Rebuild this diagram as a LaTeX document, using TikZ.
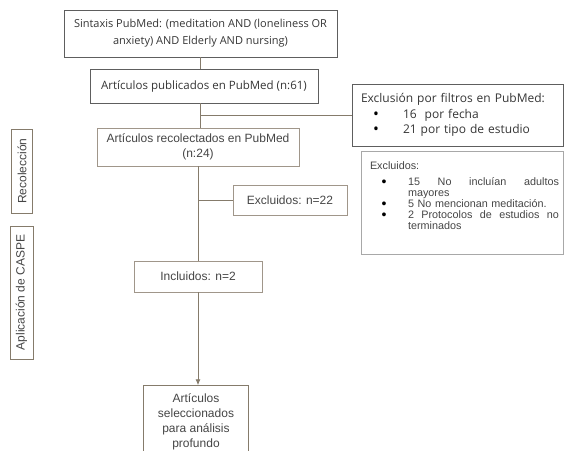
\documentclass[tikz,border=0pt]{standalone}
\usepackage{fontspec}
\setmainfont{Liberation Sans}
\newfontfamily\opensans{Open Sans}
\usetikzlibrary{arrows.meta}

\definecolor{bordeosc}{HTML}{5E5E5E}
\definecolor{bordecafe}{HTML}{A0968A}
\definecolor{bordegris}{HTML}{A8A8A8}
\definecolor{lineacafe}{HTML}{857B6B}
\definecolor{textosc}{HTML}{353535}
\definecolor{textgris}{HTML}{454545}

\newcommand{\punto}{\textcolor{black}{\raisebox{-0.08em}{\scalebox{1.3}{\textbullet}}}}
\newcommand{\filtbul}{\makebox[42pt][l]{\hspace*{12pt}\punto\hfil}}
\newcommand{\exbul}{\makebox[38pt][l]{\hspace*{11.5pt}\punto\hfil}}

\begin{document}
\begin{tikzpicture}[x=1pt, y=-1pt, line width=0.9pt,
    topbox/.style = {draw=bordeosc, text=textosc, align=center, inner sep=0pt},
    box/.style = {draw=bordecafe, text=textgris, align=center, inner sep=0pt,
                  font=\fontsize{12}{15.5}\selectfont},
    conn/.style = {draw=lineacafe}]

    \useasboundingbox (0,0) rectangle (564,450);

    % columna principal
    \node[topbox, minimum width=273pt, minimum height=47pt,
          font=\opensans\fontsize{11}{17}\selectfont] (sintaxis) at (200.5,33.5)
          {Sintaxis PubMed: (meditation AND (loneliness OR\\anxiety) AND Elderly AND nursing)};
    \node[topbox, minimum width=228pt, minimum height=34pt,
          font=\opensans\fontsize{11.5}{14}\selectfont] (publicados) at (204,86)
          {Artículos publicados en PubMed (n:61)};
    \node[box, minimum width=202pt, minimum height=38pt] (recolectados) at (198,147)
          {Artículos recolectados en PubMed\\(n:24)};
    \node[box, minimum width=114pt, minimum height=30pt] (excl22) at (290,200) {Excluidos: n=22};
    \node[box, minimum width=128pt, minimum height=31pt] (incluidos) at (198,276.5) {Incluidos: n=2};
    \node[box, draw=lineacafe, minimum width=105pt, minimum height=72pt,
          font=\fontsize{12}{15}\selectfont] (seleccionados) at (196,421.7)
          {Artículos\\seleccionados\\para análisis\\profundo};

    % exclusiones a la derecha
    \node[topbox, align=left, text width=193pt, inner xsep=9pt, minimum height=62pt,
          font=\opensans\fontsize{12}{15.5}\selectfont] (exclusion) at (457.5,115)
          {Exclusión por filtros en PubMed:\\
           \filtbul 16\ \ por fecha\\
           \filtbul 21 por tipo de estudio};
    \node[draw=bordegris, minimum width=202pt, minimum height=102.5pt, inner sep=0pt] (excluidos) at (462.5,203) {};
    \node[anchor=north west, inner sep=0pt, text=textgris, text width=192pt, align=left,
          font=\fontsize{10.8}{10.9}\selectfont] (excltxt) at ([shift={(8.5,10)}]excluidos.north west)
          {\lineskiplimit=-20pt Excluidos:\\[5pt]
           \exbul\makebox[151pt][l]{15\hfill No\hfill incluían\hfill adultos}\\
           \hspace*{38pt}mayores\\
           \exbul 5 No mencionan meditación.\\
           \exbul\makebox[151pt][l]{2\hfill Protocolos\hfill de\hfill estudios\hfill no}\\
           \hspace*{38pt}terminados};

    % etapas
    \node[box, draw=lineacafe, rotate=90, minimum width=84pt, minimum height=20.5pt] (recoleccion) at (22,171) {Recolección};
    \node[box, draw=lineacafe, rotate=90, minimum width=133pt, minimum height=23pt] (caspe) at (21.5,292.5) {Aplicación de CASPE};

    % conectores
    \draw[conn] (sintaxis.south) -- (sintaxis.south |- publicados.north);
    \draw[conn] (sintaxis.south |- publicados.south) -- (sintaxis.south |- recolectados.north);
    \draw[conn] (sintaxis.south |- exclusion.west) -- (exclusion.west);
    \draw[conn] (recolectados.south) -- (incluidos.north);
    \draw[conn] (recolectados.south |- excl22.west) -- (excl22.west);
    \draw[conn, -{Latex[length=6pt,width=5pt]}] (incluidos.south) -- (incluidos.south |- seleccionados.north);
\end{tikzpicture}
\end{document}
